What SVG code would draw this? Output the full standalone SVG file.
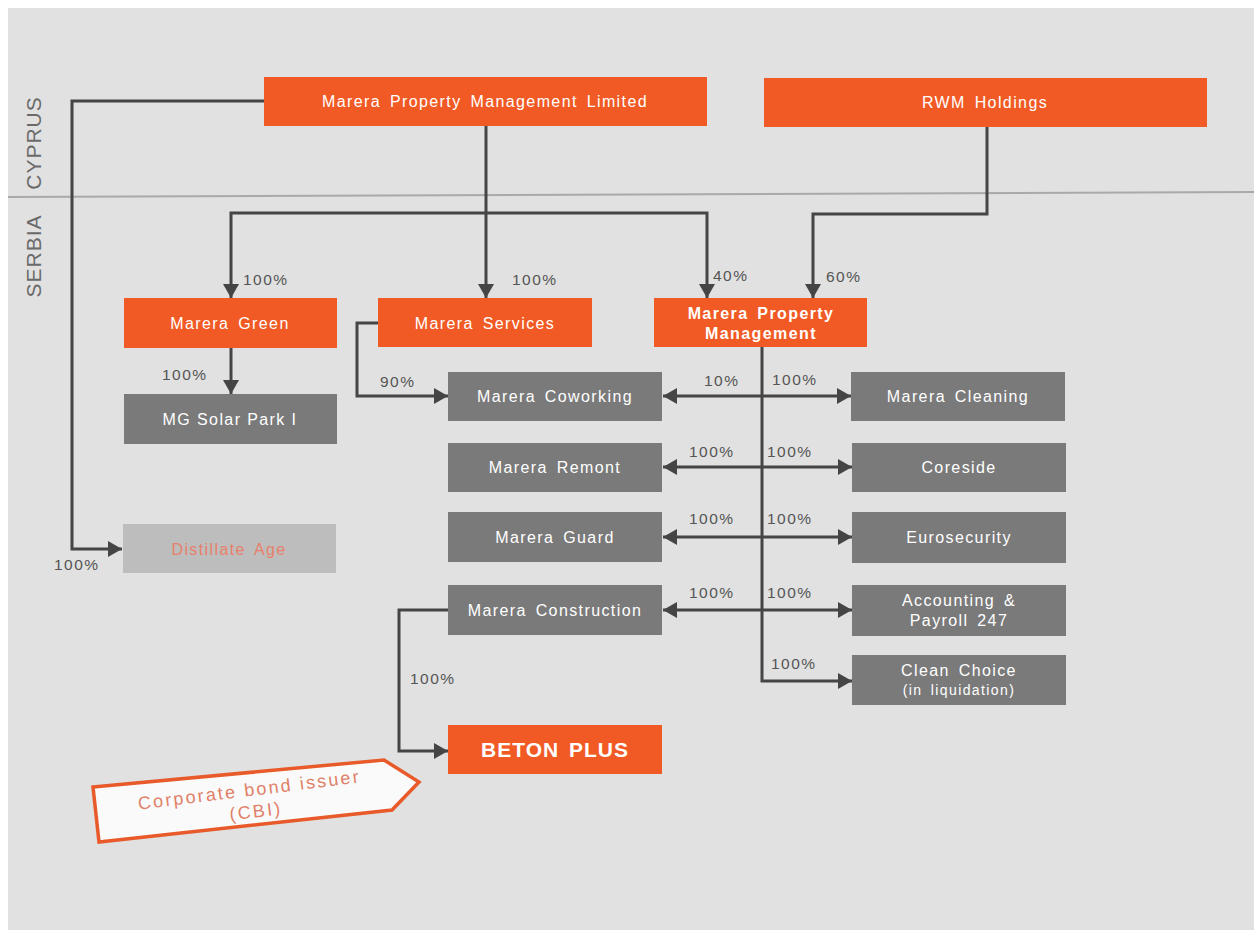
<svg xmlns="http://www.w3.org/2000/svg" width="1254" height="930" viewBox="0 0 1254 930">
<style>
.or{fill:#f15a24}
.gr{fill:#7a7a7a}
.bt{font-family:"Liberation Sans",Arial,sans-serif;font-size:16px;fill:#ffffff;text-anchor:middle;letter-spacing:1.4px;word-spacing:3px}
.bb{font-weight:bold}
.pc{font-family:"Liberation Sans",Arial,sans-serif;font-size:15.5px;fill:#555555;letter-spacing:1.5px}
.cn{fill:none;stroke:#454545;stroke-width:3}
.rg{font-family:"Liberation Sans",Arial,sans-serif;font-size:21px;fill:#6a6a6a;text-anchor:middle;letter-spacing:1px}
</style>
<defs>
<marker id="ah" markerUnits="userSpaceOnUse" markerWidth="16" markerHeight="16" refX="14" refY="8" orient="auto-start-reverse">
<path d="M0,0 L14,8 L0,16 z" fill="#454545"/>
</marker>
</defs>
<rect x="0" y="0" width="1254" height="930" fill="#ffffff"/>
<rect x="8" y="8" width="1246" height="922" fill="#e1e1e1"/>
<line x1="8" y1="197" x2="1254" y2="192" stroke="#a9a9a9" stroke-width="2"/>
<text class="rg" transform="translate(41,143) rotate(-90)">CYPRUS</text>
<text class="rg" transform="translate(41,256) rotate(-90)">SERBIA</text>

<g id="connectors">
<path class="cn" d="M264,101 H72 V549 H122" marker-end="url(#ah)"/>
<path class="cn" d="M486,126 V298" marker-end="url(#ah)"/>
<path class="cn" d="M486,213 H231 V298" marker-end="url(#ah)"/>
<path class="cn" d="M486,213 H707 V298" marker-end="url(#ah)"/>
<path class="cn" d="M987,127 V214 H813 V298" marker-end="url(#ah)"/>
<path class="cn" d="M231,348 V394" marker-end="url(#ah)"/>
<path class="cn" d="M378,323 H357 V396 H448" marker-end="url(#ah)"/>
<path class="cn" d="M762,347 V681 H852" marker-end="url(#ah)"/>
<path class="cn" d="M663,396 H851" marker-start="url(#ah)" marker-end="url(#ah)"/>
<path class="cn" d="M663,467 H852" marker-start="url(#ah)" marker-end="url(#ah)"/>
<path class="cn" d="M663,537 H852" marker-start="url(#ah)" marker-end="url(#ah)"/>
<path class="cn" d="M663,610 H852" marker-start="url(#ah)" marker-end="url(#ah)"/>
<path class="cn" d="M448,610 H399 V751 H448" marker-end="url(#ah)"/>
<text class="pc" x="54" y="570">100%</text>
<text class="pc" x="243" y="285">100%</text>
<text class="pc" x="512" y="285">100%</text>
<text class="pc" x="713" y="281">40%</text>
<text class="pc" x="826" y="282">60%</text>
<text class="pc" x="162" y="380">100%</text>
<text class="pc" x="380" y="387">90%</text>
<text class="pc" x="704" y="386">10%</text>
<text class="pc" x="772" y="385">100%</text>
<text class="pc" x="689" y="457">100%</text>
<text class="pc" x="767" y="457">100%</text>
<text class="pc" x="689" y="524">100%</text>
<text class="pc" x="767" y="524">100%</text>
<text class="pc" x="689" y="598">100%</text>
<text class="pc" x="767" y="598">100%</text>
<text class="pc" x="771" y="669">100%</text>
<text class="pc" x="410" y="684">100%</text>
</g>

<g id="n-pml-limited"><rect class="or" x="264" y="77" width="443" height="49"/><text class="bt" x="485" y="107">Marera Property Management Limited</text></g>
<g id="n-rwm"><rect class="or" x="764" y="78" width="443" height="49"/><text class="bt" x="985" y="108">RWM Holdings</text></g>
<g id="n-green"><rect class="or" x="124" y="298" width="213" height="50"/><text class="bt" x="230" y="329">Marera Green</text></g>
<g id="n-services"><rect class="or" x="378" y="298" width="214" height="49"/><text class="bt" x="485" y="329">Marera Services</text></g>
<g id="n-mpm"><rect class="or" x="654" y="298" width="213" height="49"/><text class="bt bb" x="761" y="319">Marera Property</text><text class="bt bb" x="761" y="339">Management</text></g>
<g id="n-solar"><rect class="gr" x="124" y="394" width="213" height="50"/><text class="bt" x="230" y="425" style="word-spacing:0px">MG Solar Park I</text></g>
<g id="n-distillate"><rect x="123" y="524" width="213" height="49" fill="#bdbdbd"/><text class="bt" x="229" y="555" style="fill:#e8806a">Distillate Age</text></g>
<g id="n-coworking"><rect class="gr" x="448" y="372" width="214" height="49"/><text class="bt" x="555" y="402">Marera Coworking</text></g>
<g id="n-remont"><rect class="gr" x="448" y="443" width="214" height="49"/><text class="bt" x="555" y="473">Marera Remont</text></g>
<g id="n-guard"><rect class="gr" x="448" y="512" width="214" height="50"/><text class="bt" x="555" y="543">Marera Guard</text></g>
<g id="n-construction"><rect class="gr" x="448" y="585" width="214" height="50"/><text class="bt" x="555" y="616">Marera Construction</text></g>
<g id="n-cleaning"><rect class="gr" x="851" y="372" width="214" height="49"/><text class="bt" x="958" y="402">Marera Cleaning</text></g>
<g id="n-coreside"><rect class="gr" x="852" y="443" width="214" height="49"/><text class="bt" x="959" y="473">Coreside</text></g>
<g id="n-eurosecurity"><rect class="gr" x="852" y="512" width="214" height="51"/><text class="bt" x="959" y="543">Eurosecurity</text></g>
<g id="n-accounting"><rect class="gr" x="852" y="585" width="214" height="51"/><text class="bt" x="959" y="606">Accounting &amp;</text><text class="bt" x="959" y="626">Payroll 247</text></g>
<g id="n-cleanchoice"><rect class="gr" x="852" y="655" width="214" height="50"/><text class="bt" x="959" y="676">Clean Choice</text><text class="bt" x="959" y="695" style="font-size:14px">(in liquidation)</text></g>
<g id="n-beton"><rect class="or" x="448" y="725" width="214" height="49"/><text class="bt bb" x="555" y="757" style="font-size:21px;letter-spacing:1px">BETON PLUS</text></g>
<g id="n-cbi">
<polygon points="93,787 384,760 419,782 392,810 99,842" fill="#fafafa" stroke="#e85a2a" stroke-width="3.5" stroke-linejoin="miter"/>
<g transform="rotate(-7 250 796)" font-family="'Liberation Sans',Arial,sans-serif" font-size="18" fill="#e08068" text-anchor="middle" letter-spacing="2.2">
<text x="250" y="796">Corporate bond issuer</text>
<text x="254" y="818">(CBI)</text>
</g>
</g>
</svg>
